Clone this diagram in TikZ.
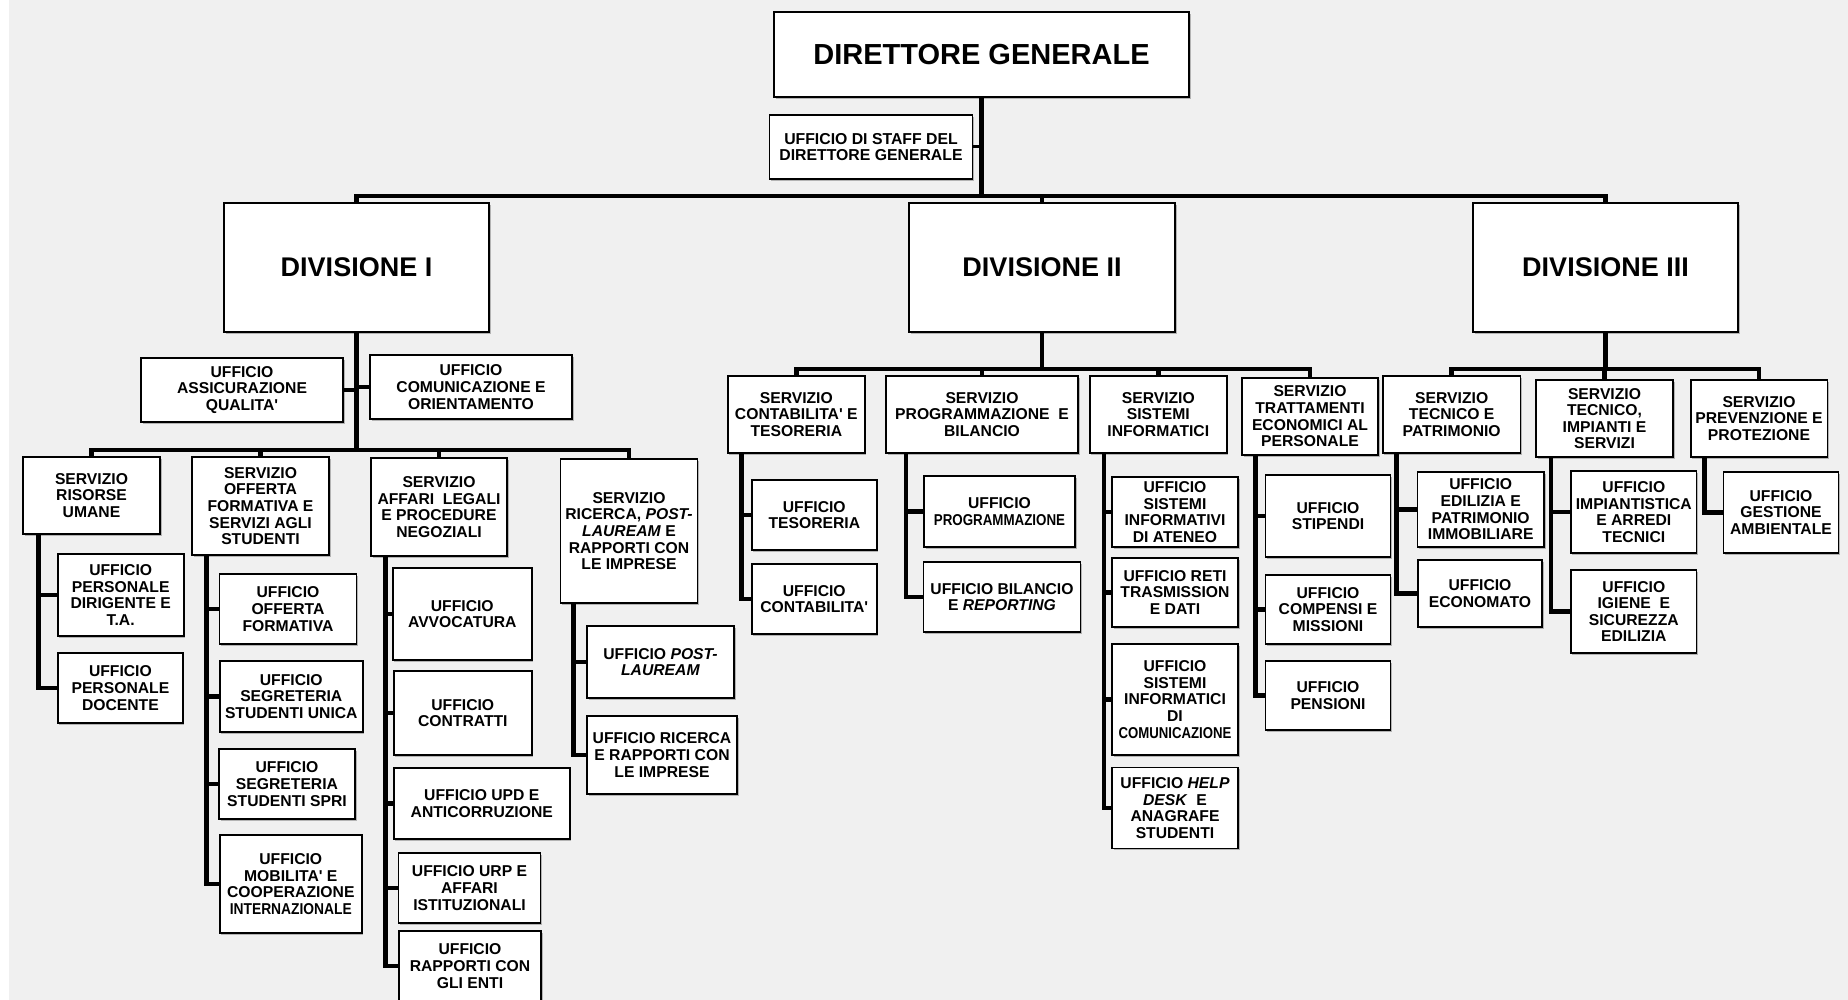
\documentclass[tikz,border=0pt]{standalone}
\usepackage{fontspec}
\setmainfont{Liberation Sans}[Ligatures=TeXOff]
\usetikzlibrary{shadows}
\definecolor{bgc}{HTML}{F0F0F0}
\newcommand{\cnd}[2][0.85]{\scalebox{#1}[1]{#2}}
\begin{document}
\begin{tikzpicture}[x=1pt,y=-1pt,
  bx/.style={draw=black, line width=1.6pt, fill=white, align=center, inner sep=0pt,
    font=\fontsize{15.7}{16.6}\selectfont\bfseries,
    drop shadow={shadow xshift=1.5pt, shadow yshift=-1.8pt, opacity=0.25, fill=black}},
  sz/.style 2 args={minimum width=#1pt, minimum height=#2pt},
  conn/.style={line width=4.8pt, draw=black, line join=miter},
  stub/.style={line width=3pt, draw=black},
]
\useasboundingbox (0,0) rectangle (1848,1000);
\clip (0,0) rectangle (1848,1000);
\fill[white] (0,0) rectangle (1848,1000);
\fill[bgc] (9,0) rectangle (1848,1000);

% ---------- top level ----------
\node[bx, sz={415}{85}, font=\fontsize{29}{32}\selectfont\bfseries] (DG) at (981.5,54.5) {DIRETTORE GENERALE};
\node[bx, sz={203}{64}, font=\fontsize{15.8}{16.2}\selectfont\bfseries] (ST) at (871,147) {UFFICIO DI STAFF DEL\\DIRETTORE GENERALE};
\node[bx, sz={265}{129}, font=\fontsize{27}{30}\selectfont\bfseries] (D1) at (356.5,267.5) {DIVISIONE I};
\node[bx, sz={266}{129}, font=\fontsize{27}{30}\selectfont\bfseries] (D2) at (1042,267.5) {DIVISIONE II};
\node[bx, sz={265}{129}, font=\fontsize{27}{30}\selectfont\bfseries] (D3) at (1605.5,267.5) {DIVISIONE III};

% ---------- Divisione I ----------
\node[bx, sz={202}{64}] (AQ) at (242,390) {UFFICIO\\ASSICURAZIONE\\QUALITA'};
\node[bx, sz={202}{64}] (COM) at (471,387) {UFFICIO\\COMUNICAZIONE E\\ORIENTAMENTO};
\node[bx, sz={137}{77}] (SRU) at (91.5,495.5) {SERVIZIO\\RISORSE\\UMANE};
\node[bx, sz={137}{98}] (SOF) at (260.5,506) {SERVIZIO\\OFFERTA\\FORMATIVA E\\SERVIZI AGLI\\STUDENTI};
\node[bx, sz={136}{98}] (SAL) at (439,507) {SERVIZIO\\AFFARI\ \ LEGALI\\E PROCEDURE\\NEGOZIALI};
\node[bx, sz={137}{144}] (SRIC) at (629,531) {SERVIZIO\\RICERCA, \textit{POST-}\\\textit{LAUREAM} E\\RAPPORTI CON\\LE IMPRESE};

\node[bx, sz={126}{82}] (UPDTA) at (120.7,595) {UFFICIO\\PERSONALE\\DIRIGENTE E\\T.A.};
\node[bx, sz={125}{70}] (UPD) at (120.4,688) {UFFICIO\\PERSONALE\\DOCENTE};

\node[bx, sz={137}{70}] (UOF) at (288,609) {UFFICIO\\OFFERTA\\FORMATIVA};
\node[bx, sz={143}{71}] (USSU) at (291.3,696.5) {UFFICIO\\SEGRETERIA\\STUDENTI UNICA};
\node[bx, sz={136}{70}] (USSS) at (287,784) {UFFICIO\\SEGRETERIA\\STUDENTI SPRI};
\node[bx, sz={142}{98}] (UMCI) at (290.8,884) {UFFICIO\\MOBILITA' E\\COOPERAZIONE\\\cnd[0.88]{INTERNAZIONALE}};

\node[bx, sz={139}{92}] (UAVV) at (462.3,614) {UFFICIO\\AVVOCATURA};
\node[bx, sz={138}{84}] (UCON) at (462.8,713) {UFFICIO\\CONTRATTI};
\node[bx, sz={176}{71}] (UUPD) at (481.8,803.5) {UFFICIO UPD E\\ANTICORRUZIONE};
\node[bx, sz={142}{70}] (UURP) at (469.5,888) {UFFICIO URP E\\AFFARI\\ISTITUZIONALI};
\node[bx, sz={142}{70}] (URCE) at (470,966) {UFFICIO\\RAPPORTI CON\\GLI ENTI};

\node[bx, sz={147}{72}] (UPL) at (660.5,662) {UFFICIO \textit{POST-}\\\textit{LAUREAM}};
\node[bx, sz={150}{78}] (URRI) at (662,755) {UFFICIO RICERCA\\E RAPPORTI CON\\LE IMPRESE};

% ---------- Divisione II ----------
\node[bx, sz={137}{77}] (SCT) at (796.3,414.3) {SERVIZIO\\CONTABILITA' E\\TESORERIA};
\node[bx, sz={192}{77}] (SPB) at (982,414.3) {SERVIZIO\\PROGRAMMAZIONE\ \ E\\BILANCIO};
\node[bx, sz={137}{77}] (SSI) at (1158.3,414.3) {SERVIZIO\\SISTEMI\\INFORMATICI};
\node[bx, sz={136}{77}] (STEP) at (1310,416.3) {SERVIZIO\\TRATTAMENTI\\ECONOMICI AL\\PERSONALE};

\node[bx, sz={125}{70}] (UTES) at (814.3,515) {UFFICIO\\TESORERIA};
\node[bx, sz={125}{70}] (UCONT) at (814.3,599) {UFFICIO\\CONTABILITA'};

\node[bx, sz={151}{71}] (UPROG) at (999.5,511.5) {UFFICIO\\\cnd[0.85]{PROGRAMMAZIONE}};
\node[bx, sz={157}{70}] (UBIL) at (1002,597) {UFFICIO BILANCIO\\E \textit{REPORTING}};

\node[bx, sz={126}{70}] (USIA) at (1175,512) {UFFICIO\\SISTEMI\\INFORMATIVI\\DI ATENEO};
\node[bx, sz={126}{69}] (URTD) at (1175,592.4) {UFFICIO RETI\\TRASMISSION\\E DATI};
\node[bx, sz={126}{111}] (USIC) at (1175,699.5) {UFFICIO\\SISTEMI\\INFORMATICI\\DI\\\cnd[0.84]{COMUNICAZIONE}};
\node[bx, sz={126}{81}] (UHD) at (1175,808) {UFFICIO \textit{HELP}\\\textit{DESK}\ \ E\\ANAGRAFE\\STUDENTI};

\node[bx, sz={125}{82}] (USTIP) at (1328,516) {UFFICIO\\STIPENDI};
\node[bx, sz={125}{69}] (UCM) at (1328,609.5) {UFFICIO\\COMPENSI E\\MISSIONI};
\node[bx, sz={125}{69}] (UPENS) at (1328,695.5) {UFFICIO\\PENSIONI};

% ---------- Divisione III ----------
\node[bx, sz={137.5}{77}] (STP) at (1451.7,414.3) {SERVIZIO\\TECNICO E\\PATRIMONIO};
\node[bx, sz={137}{77}] (STIS) at (1604.5,418.5) {SERVIZIO\\TECNICO,\\IMPIANTI E\\SERVIZI};
\node[bx, sz={136.6}{77}] (SPP) at (1759,418.5) {SERVIZIO\\PREVENZIONE E\\PROTEZIONE};

\node[bx, sz={126.6}{75}] (UEPI) at (1480.7,509.3) {UFFICIO\\EDILIZIA E\\PATRIMONIO\\IMMOBILIARE};
\node[bx, sz={124}{67}] (UECO) at (1480,593.5) {UFFICIO\\ECONOMATO};
\node[bx, sz={125.7}{82}] (UIAT) at (1633.8,512) {UFFICIO\\IMPIANTISTICA\\E ARREDI\\TECNICI};
\node[bx, sz={125.7}{83}] (UISE) at (1633.8,611.5) {UFFICIO\\IGIENE\ \ E\\SICUREZZA\\EDILIZIA};
\node[bx, sz={115}{81}] (UGA) at (1781,512.2) {UFFICIO\\GESTIONE\\AMBIENTALE};

% ---------- connectors: top ----------
\coordinate (h0) at (0,196);
\draw[conn] (DG.south) -- (DG.south |- h0);
\draw[conn] (D1.north) |- (D3.north |- h0) -- (D3.north);
\draw[conn] (D2.north) -- (D2.north |- h0);
\draw[stub] (ST.east) -- (ST.east -| DG.south);

% ---------- connectors: Divisione I ----------
\coordinate (h1) at (0,450);
\draw[conn] (D1.south) -- (D1.south |- h1);
\draw[conn] (SRU.north) |- (SRIC.north |- h1) -- (SRIC.north);
\draw[conn] (SOF.north) -- (SOF.north |- h1);
\draw[conn] (SAL.north) -- (SAL.north |- h1);
\draw[conn] (AQ.east) -- (AQ.east -| D1.south);
\draw[conn] (COM.west) -- (COM.west -| D1.south);

\coordinate (sSRU) at ([xshift=16pt]SRU.south west);
\draw[conn] (sSRU) |- (UPD.west);
\draw[conn] (sSRU |- UPDTA.west) -- (UPDTA.west);

\coordinate (sSOF) at ([xshift=15.5pt]SOF.south west);
\draw[conn] (sSOF) |- (UMCI.west);
\foreach \c in {UOF,USSU,USSS} \draw[conn] (sSOF |- \c.west) -- (\c.west);

\coordinate (sSAL) at ([xshift=15pt]SAL.south west);
\draw[conn] (sSAL) |- (URCE.west);
\foreach \c in {UAVV,UCON,UUPD,UURP} \draw[conn] (sSAL |- \c.west) -- (\c.west);

\coordinate (sSRIC) at ([xshift=14pt]SRIC.south west);
\draw[conn] (sSRIC) |- (URRI.west);
\draw[conn] (sSRIC |- UPL.west) -- (UPL.west);

% ---------- connectors: Divisione II ----------
\coordinate (h2) at (0,369);
\draw[conn] (D2.south) -- (D2.south |- h2);
\draw[conn] (SCT.north) |- (STEP.north |- h2) -- (STEP.north);
\draw[conn] (SPB.north) -- (SPB.north |- h2);
\draw[conn] (SSI.north) -- (SSI.north |- h2);

\coordinate (sSCT) at ([xshift=14.5pt]SCT.south west);
\draw[conn] (sSCT) |- (UCONT.west);
\draw[conn] (sSCT |- UTES.west) -- (UTES.west);

\coordinate (sSPB) at ([xshift=20.7pt]SPB.south west);
\draw[conn] (sSPB) |- (UBIL.west);
\draw[conn] (sSPB |- UPROG.west) -- (UPROG.west);

\coordinate (sSSI) at ([xshift=15pt]SSI.south west);
\draw[conn] (sSSI) |- (UHD.west);
\foreach \c in {USIA,URTD,USIC} \draw[conn] (sSSI |- \c.west) -- (\c.west);

\coordinate (sSTEP) at ([xshift=14pt]STEP.south west);
\draw[conn] (sSTEP) |- (UPENS.west);
\foreach \c in {USTIP,UCM} \draw[conn] (sSTEP |- \c.west) -- (\c.west);

% ---------- connectors: Divisione III ----------
\draw[conn] (D3.south) -- (D3.south |- h2);
\draw[conn] (STP.north) |- (SPP.north |- h2) -- (SPP.north);
\draw[conn] (STIS.north) -- (STIS.north |- h2);

\coordinate (sSTP) at ([xshift=14.5pt]STP.south west);
\draw[conn] (sSTP) |- (UECO.west);
\draw[conn] (sSTP |- UEPI.west) -- (UEPI.west);

\coordinate (sSTIS) at ([xshift=15.7pt]STIS.south west);
\draw[conn] (sSTIS) |- (UISE.west);
\draw[conn] (sSTIS |- UIAT.west) -- (UIAT.west);

\coordinate (sSPP) at ([xshift=14.7pt]SPP.south west);
\draw[conn] (sSPP) |- (UGA.west);
\end{tikzpicture}
\end{document}
